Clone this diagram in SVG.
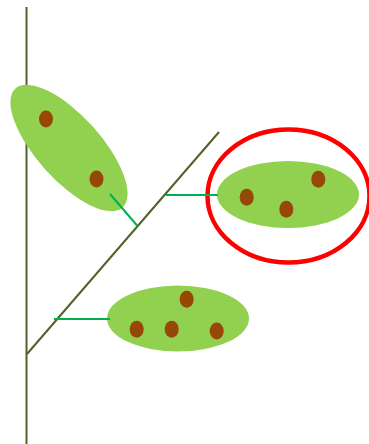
<svg xmlns="http://www.w3.org/2000/svg" width="369" height="444" viewBox="0 0 369 444">
<style>
.stem{stroke:#4F6228;stroke-width:2;fill:none}
.link{stroke:#00B050;stroke-width:2;fill:none}
.pod{fill:#92D050}
.seed{fill:#974706}
</style>
<rect width="369" height="444" fill="#fff"/>
<g id="stem">
<line class="stem" x1="26.5" y1="7" x2="26.5" y2="444"/>
<line class="stem" x1="27" y1="354" x2="219" y2="132"/>
</g>
<g id="pod1">
<ellipse class="pod" cx="69" cy="148" rx="80" ry="32" transform="rotate(48 69 148)"/>
<ellipse class="seed" cx="46" cy="119" rx="7" ry="8.5"/>
<ellipse class="seed" cx="96.5" cy="179" rx="7" ry="8.5"/>
</g>
<g id="pod2">
<ellipse class="pod" cx="288" cy="194.5" rx="71" ry="33.5"/>
<ellipse class="seed" cx="246.7" cy="197.3" rx="7" ry="8.5"/>
<ellipse class="seed" cx="286.3" cy="209.3" rx="7" ry="8.5"/>
<ellipse class="seed" cx="318.3" cy="179.3" rx="7" ry="8.5"/>
</g>
<g id="pod3">
<ellipse class="pod" cx="178" cy="318.5" rx="71" ry="33"/>
<ellipse class="seed" cx="136.7" cy="329.3" rx="7" ry="8.5"/>
<ellipse class="seed" cx="171.7" cy="329.3" rx="7" ry="8.5"/>
<ellipse class="seed" cx="216.7" cy="331" rx="7" ry="8.5"/>
<ellipse class="seed" cx="186.7" cy="299.3" rx="7" ry="8.5"/>
</g>
<g id="highlight">
<ellipse cx="288.5" cy="196" rx="81" ry="66.5" fill="none" stroke="#FF0000" stroke-width="4.5"/>
</g>
<g id="connectors">
<line class="link" x1="110" y1="194" x2="137.5" y2="226"/>
<line class="link" x1="166" y1="195" x2="218" y2="195"/>
<line class="link" x1="54" y1="319" x2="110" y2="319"/>
</g>
</svg>
